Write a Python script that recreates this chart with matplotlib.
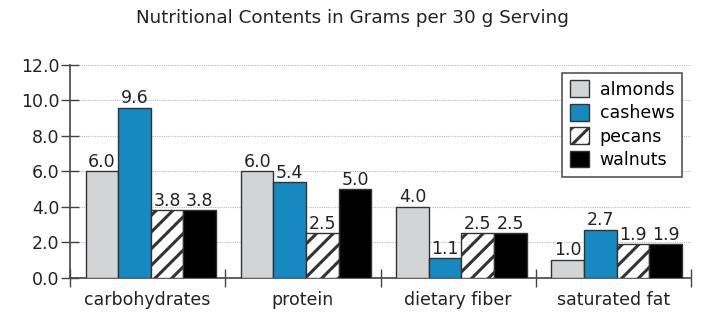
import numpy as np
import matplotlib
matplotlib.use("Agg")
import matplotlib.pyplot as plt

categories = ["carbohydrates", "protein", "dietary fiber", "saturated fat"]
series = ["almonds", "cashews", "pecans", "walnuts"]
almonds = [6.0, 6.0, 4.0, 1.0]
cashews = [9.6, 5.4, 1.1, 2.7]
pecans = [3.8, 2.5, 2.5, 1.9]
walnuts = [3.8, 5.0, 2.5, 1.9]
yticks = [0.0, 2.0, 4.0, 6.0, 8.0, 10.0, 12.0]

plt.rcParams["font.family"] = ["DejaVu Sans"]
plt.rcParams["hatch.linewidth"] = 2.2

fig = plt.figure(figsize=(7.14, 3.22), dpi=100)
ax = fig.add_axes([0.098, 0.138, 0.870, 0.660])

fs = 12.5
styles = [
    dict(color="#d3d4d6", hatch=None),
    dict(color="#1689c0", hatch=None),
    dict(color="white", hatch="//"),
    dict(color="black", hatch=None),
]
width = 0.21
x = np.arange(len(categories))
for i, (name, vals) in enumerate(zip(series, [almonds, cashews, pecans, walnuts])):
    pos = x + (i - 1.5) * width + 0.02
    bars = ax.bar(pos, vals, width, color=styles[i]["color"], hatch=styles[i]["hatch"],
                  edgecolor="#333333", linewidth=1.0, label=name, zorder=3)
    for b, v in zip(bars, vals):
        ax.text(b.get_x() + b.get_width() / 2, v + 0.02, f"{v:.1f}",
                ha="center", va="bottom", fontsize=fs, color="#222222", zorder=4)

ax.set_xlim(-0.5, len(categories) - 0.5)
ax.set_ylim(0, 12)
ax.set_yticks(yticks)
ax.set_yticklabels([f"{t:.1f}" for t in yticks], fontsize=fs, color="#222222")
ax.set_xticks(x)
ax.set_xticklabels(categories, fontsize=fs, color="#222222")
ax.tick_params(axis="x", length=0, pad=10)
ax.set_xticks(np.arange(len(categories) + 1) - 0.5, minor=True)
ax.tick_params(axis="x", which="minor", direction="inout", length=13, width=1, color="#444444")
ax.tick_params(axis="y", direction="inout", length=13, width=1, color="#444444", pad=1)

ax.yaxis.grid(True, linestyle=(0, (1, 1)), color="#bbbbbb", linewidth=0.8, zorder=0)
for s in ["top", "right"]:
    ax.spines[s].set_visible(False)
for s in ["left", "bottom"]:
    ax.spines[s].set_color("#444444")
    ax.spines[s].set_linewidth(1.2)

leg = ax.legend(loc="upper right", fontsize=fs, frameon=True, fancybox=False,
                handlelength=1.1, handleheight=1.1, handletextpad=0.6,
                labelspacing=0.3, borderpad=0.45, bbox_to_anchor=(0.9995, 1.005))
leg.get_frame().set_edgecolor("#555555")
leg.get_frame().set_linewidth(1.2)
leg.get_frame().set_alpha(1.0)

fig.text(0.494, 0.944, "Nutritional Contents in Grams per 30 g Serving",
         ha="center", va="center", fontsize=13.2, color="#222222")

fig.savefig("out.png", dpi=100)
